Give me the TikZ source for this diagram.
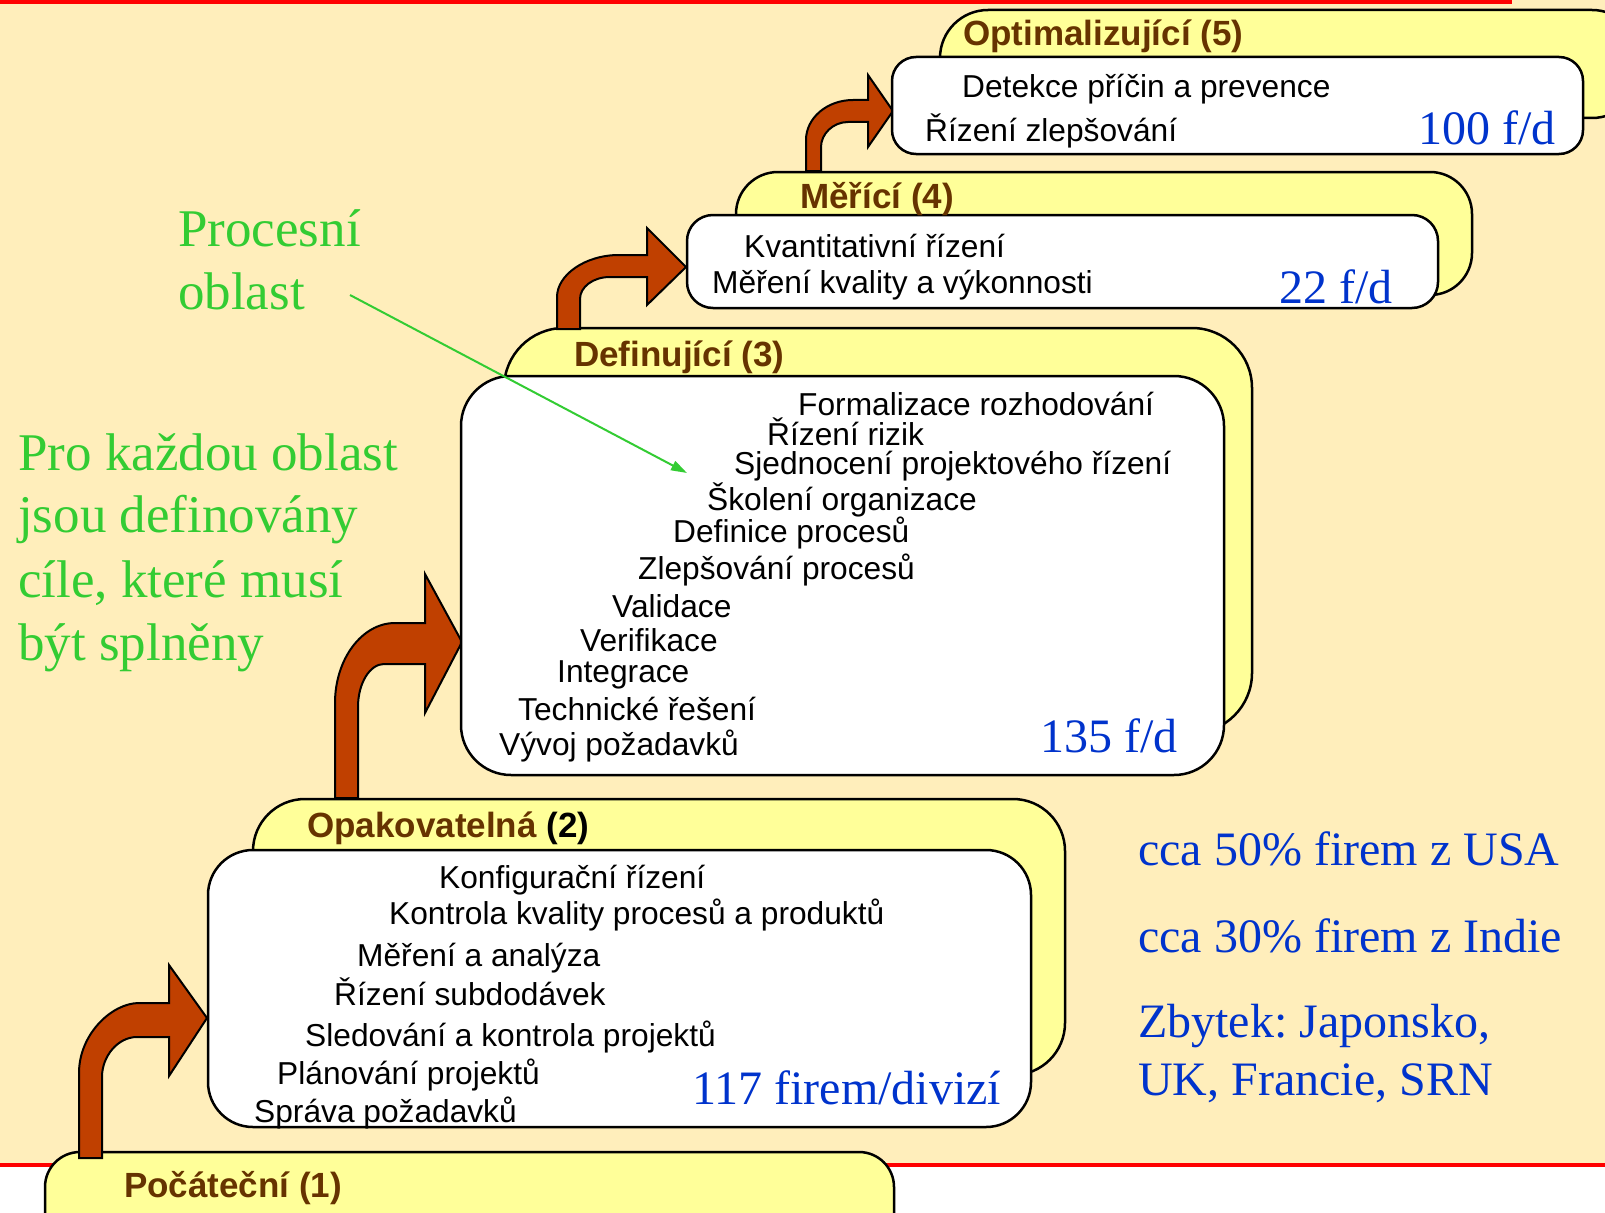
\documentclass[tikz,border=0pt]{standalone}
\usepackage{fontspec}
\setmainfont{Liberation Serif}
\newfontfamily\sansf{Liberation Sans}
\usetikzlibrary{arrows.meta}
\definecolor{bgbeige}{RGB}{255,238,187}
\definecolor{tabyellow}{RGB}{255,255,153}
\definecolor{arrowred}{RGB}{192,64,0}
\definecolor{tabbrown}{RGB}{102,51,0}
\definecolor{numblue}{RGB}{0,51,204}
\definecolor{notegreen}{RGB}{51,204,51}
\frenchspacing
\begin{document}
\begin{tikzpicture}[x=1pt,y=-1pt,
  tabbox/.style={draw=black, line width=2.5pt, fill=tabyellow},
  whitebox/.style={draw=black, line width=2.5pt, fill=white},
  bentarrow/.style={draw=black, line width=2pt, fill=arrowred, line join=miter},
  lvltxt/.style={font=\sansf\fontsize{31.7}{36}\selectfont, anchor=base west, inner sep=0pt},
  tabtxt/.style={font=\sansf\bfseries\fontsize{35}{40}\selectfont, text=tabbrown, anchor=base west, inner sep=0pt},
  bluetxt/.style={font=\fontsize{48}{54}\selectfont, text=numblue, inner sep=0pt},
  greentxt/.style={font=\fontsize{53}{60}\selectfont, text=notegreen, anchor=base west, inner sep=0pt},
]
\useasboundingbox (0,0) rectangle (1605,1212);
% background
\fill[bgbeige] (0,0) rectangle (1605,1166);
\fill[white] (0,1166) rectangle (1605,1212);
\draw[red, line width=4pt] (0,2) -- (1512,2);
\draw[red, line width=3.5pt] (0,1165) -- (1605,1165);

% ---------- level 1
\draw[tabbox, rounded corners=35pt] (45,1152) rectangle (894,1270);
\node[tabtxt] (t1) at (124,1197) {Počáteční (1)};

% arrow 1
\draw[bentarrow] (79,1158) -- (79,1073) .. controls (79,1034) and (112,1003) .. (139,1003)
  -- (169,1003) -- (169,965) -- (207,1018) -- (169,1076) -- (169,1037) -- (137,1037)
  .. controls (118,1037) and (102,1056) .. (102,1077) -- (102,1158) -- cycle;

% ---------- level 2
\draw[tabbox, rounded corners=52pt] (253,799) rectangle (1065,1075);
\draw[whitebox, rounded corners=45pt] (208,850) rectangle (1031,1127);
\node[tabtxt] (t2) at (307,837) {Opakovatelná \textcolor{black}{(2)}};
\node[lvltxt] (a1) at (439,888) {Konfigurační řízení};
\node[lvltxt] (a2) at (389,924) {Kontrola kvality procesů a produktů};
\node[lvltxt] (a3) at (357,966) {Měření a analýza};
\node[lvltxt] (a4) at (334,1005) {Řízení subdodávek};
\node[lvltxt] (a5) at (305,1046) {Sledování a kontrola projektů};
\node[lvltxt] (a6) at (277,1084) {Plánování projektů};
\node[lvltxt] (a7) at (254,1122) {Správa požadavků};
\node[bluetxt, anchor=base west] (n2) at (692,1104) {117 firem/divizí};

% arrow 2
\draw[bentarrow] (335,798) -- (335,703) .. controls (335,659) and (362,623) .. (395,623)
  -- (425,623) -- (425,574) -- (462,642) -- (425,713) -- (425,664) -- (384,664)
  .. controls (370,664) and (358,683) .. (358,707) -- (358,798) -- cycle;

% ---------- level 3
\draw[tabbox, rounded corners=60pt] (504,328) rectangle (1252,733);
\draw[whitebox, rounded corners=50pt] (461,376) rectangle (1224,775);
\node[tabtxt] (t3) at (574,366) {Definující (3)};
\node[lvltxt] (b1) at (798,415) {Formalizace rozhodování};
\node[lvltxt] (b2) at (767,445) {Řízení rizik};
\node[lvltxt] (b3) at (734,474) {Sjednocení projektového řízení};
\node[lvltxt] (b4) at (707,510) {Školení organizace};
\node[lvltxt] (b5) at (673,542) {Definice procesů};
\node[lvltxt] (b6) at (638,579) {Zlepšování procesů};
\node[lvltxt] (b7) at (612,617) {Validace};
\node[lvltxt] (b8) at (580,651) {Verifikace};
\node[lvltxt] (b9) at (557,682) {Integrace};
\node[lvltxt] (b10) at (518,720) {Technické řešení};
\node[lvltxt] (b11) at (499,755) {Vývoj požadavků};
\node[bluetxt, anchor=base east] (n3) at (1178,752) {135 f/d};

% arrow 4
\draw[bentarrow] (557,329) -- (557,297) .. controls (557,275) and (585,255) .. (619,255)
  -- (647,255) -- (647,228) -- (686,267) -- (647,305) -- (647,277) -- (610,277)
  .. controls (593,277) and (580,287) .. (580,299) -- (580,329) -- cycle;

% ---------- level 4
\draw[tabbox, rounded corners=42pt] (736,172) rectangle (1472,295);
\draw[whitebox, rounded corners=26pt] (687,215) rectangle (1438,308);
\node[tabtxt] (t4) at (800,208) {Měřící (4)};
\node[lvltxt] (c1) at (744,257) {Kvantitativní řízení};
\node[lvltxt] (c2) at (712,293) {Měření kvality a výkonnosti};
\node[bluetxt, anchor=base east] (n4) at (1393,303) {22 f/d};

% arrow 5
\draw[bentarrow] (806,171) -- (806,140) .. controls (806,118) and (827,100) .. (853,100)
  -- (868,100) -- (868,75) -- (893,111) -- (868,147) -- (868,122) -- (848,122)
  .. controls (833,122) and (821,134) .. (821,147) -- (821,171) -- cycle;

% ---------- level 5
\draw[tabbox, rounded corners=48pt] (940,10) rectangle (1640,118);
\draw[whitebox, rounded corners=24pt] (892,57) rectangle (1583,154);
\node[tabtxt] (t5) at (963,46) {Optimalizující (5)};
\node[lvltxt] (d1) at (962,98) {Detekce příčin a prevence};
\node[lvltxt] (d2) at (925,141) {Řízení zlepšování};
\node[bluetxt, anchor=base east] (n5) at (1556,144) {100 f/d};

% ---------- notes
\node[greentxt] (g1) at (178,246) {Procesní};
\node[greentxt] (g2) at (178,309) {oblast};
\coordinate (gstart) at (350,295);
\coordinate (gend) at (687,473);
\draw[notegreen, line width=2pt, -{Triangle[length=16pt,width=10pt]}] (gstart) -- (gend);

\node[greentxt] (p1) at (18,470) {Pro každou oblast};
\node[greentxt] (p2) at (18,532) {jsou definovány};
\node[greentxt] (p3) at (18,597) {cíle, které musí};
\node[greentxt] (p4) at (18,660) {být splněny};

\node[bluetxt, anchor=base west] (s1) at (1138,865) {cca 50\% firem z USA};
\node[bluetxt, anchor=base west] (s2) at (1138,952) {cca 30\% firem z Indie};
\node[bluetxt, anchor=base west] (s3) at (1138,1037) {Zbytek: Japonsko,};
\node[bluetxt, anchor=base west] (s4) at (1138,1095) {UK, Francie, SRN};
\end{tikzpicture}
\end{document}
